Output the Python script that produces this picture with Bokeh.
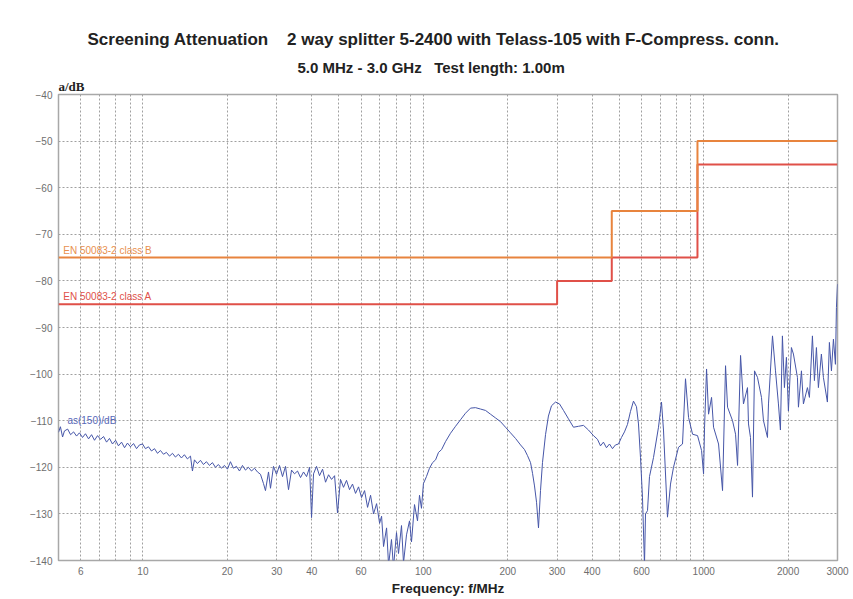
from bokeh.plotting import figure
from bokeh.models import FixedTicker, CustomJSTickFormatter, Label, Range1d, Title
from bokeh.embed import file_html
from bokeh.resources import INLINE

# ---- data ----
title_text = "Screening Attenuation\u00a0\u00a0\u00a0\u00a02 way splitter 5-2400 with Telass-105 with F-Compress. conn."
subtitle_text = "5.0 MHz - 3.0 GHz\u00a0\u00a0\u00a0Test length: 1.00m"

x_tick_labels = [6, 10, 20, 30, 40, 60, 100, 200, 300, 400, 600, 1000, 2000, 3000]
x_grid = [6, 7, 8, 9, 10, 20, 30, 40, 50, 60, 70, 80, 90, 100, 200, 300, 400, 500,
          600, 700, 800, 900, 1000, 2000, 3000]
y_ticks = [-140, -130, -120, -110, -100, -90, -80, -70, -60, -50, -40]

classB_edges = [5, 470, 950, 3000]
classB_levels = [-75, -65, -50, -50]
classA_edges = [5, 300, 470, 950, 3000]
classA_levels = [-85, -80, -75, -55, -55]

freq = [5.00, 5.08, 5.17, 5.25, 5.39, 5.52, 5.66, 5.80, 5.94, 6.09, 6.24, 6.40, 6.56, 6.72,
        6.89, 7.06, 7.24, 7.42, 7.60, 7.79, 7.99, 8.18, 8.39, 8.60, 8.81, 9.03, 9.26, 9.49,
        9.72, 9.97, 10.21, 10.47, 10.73, 11.00, 11.27, 11.55, 11.84, 12.13, 12.44, 12.75,
        13.06, 13.39, 13.72, 14.06, 14.41, 14.78, 15.02, 15.27, 15.65, 16.04, 16.44, 16.85,
        17.27, 17.70, 18.14, 18.59, 19.06, 19.54, 20.02, 20.52, 21.03, 21.56, 22.10, 22.65,
        23.21, 23.79, 24.39, 25.00, 25.62, 26.26, 26.92, 27.36, 28.05, 28.51, 29.22, 29.95,
        30.70, 31.47, 32.25, 33.06, 33.89, 34.73, 35.60, 36.49, 37.40, 38.34, 39.30, 39.94,
        40.60, 41.61, 42.65, 43.72, 44.81, 45.93, 47.08, 48.26, 49.43, 50.66, 51.93, 53.23,
        54.56, 55.92, 57.32, 58.75, 60.22, 61.73, 63.27, 64.85, 66.47, 68.13, 69.84, 70.99,
        72.15, 73.96, 75.18, 77.01, 78.28, 80.24, 81.57, 83.61, 84.99, 87.11, 89.28, 90.76,
        93.02, 95.35, 96.92, 98.51, 100.1, 102.6, 105.2, 107.9, 110.6, 113.3, 116.2, 120.0,
        125.0, 130.3, 135.7, 141.4, 147.4, 153.5, 160.0, 166.7, 173.6, 180.9, 188.5, 196.4,
        204.6, 213.2, 222.2, 229.6, 235.3, 241.2, 245.2, 249.2, 253.4, 257.5, 261.8, 266.1,
        272.8, 279.4, 286.5, 296.1, 306.0, 316.2, 329.4, 343.2, 357.6, 372.6, 388.2, 404.5,
        418.0, 428.5, 438.9, 450.0, 461.3, 472.8, 484.4, 496.7, 509.0, 521.7, 534.7, 548.1,
        561.7, 575.8, 585.3, 595.0, 604.8, 614.9, 620.0, 630.3, 640.7, 662.1, 689.8, 707.0,
        718.7, 742.7, 761.3, 780.3, 813.0, 840.2, 861.1, 882.9, 912.4, 950.6, 982.5, 998.7,
        1006.9, 1023.6, 1040.5, 1066.5, 1084.1, 1129.6, 1167.2, 1196.3, 1216.2, 1267.1,
        1298.8, 1320.3, 1353.3, 1386.2, 1432.6, 1444.5, 1468.4, 1492.6, 1517.4, 1555.3,
        1607.0, 1633.7, 1688.2, 1702.2, 1759.1, 1803.0, 1846.9, 1877.5, 1908.4, 1940.2,
        1972.4, 2004.9, 2054.9, 2089.2, 2158.9, 2176.8, 2231.2, 2268.0, 2343.6, 2382.5,
        2441.9, 2482.1, 2523.4, 2564.5, 2628.5, 2671.8, 2761.2, 2806.8, 2854.4, 2901.4,
        2949.3, 2973.9, 3000.0]

atten = [-112.5, -111.3, -113.5, -112.2, -111.8, -113.0, -112.4, -113.3, -112.6, -113.6,
         -112.8, -113.9, -113.0, -114.2, -113.2, -114.0, -113.4, -114.6, -113.8, -115.0,
         -114.2, -115.4, -114.6, -115.8, -114.8, -115.6, -114.9, -116.0, -115.2, -115.0,
         -116.0, -115.6, -116.5, -116.0, -117.0, -116.4, -117.2, -116.8, -117.6, -117.0,
         -117.8, -117.2, -118.0, -117.3, -118.2, -117.6, -120.8, -118.4, -119.2, -118.5,
         -119.4, -118.8, -119.6, -119.0, -120.0, -119.4, -120.2, -119.6, -120.4, -118.8,
         -120.2, -119.8, -120.8, -119.6, -120.6, -120.0, -120.8, -120.2, -121.0, -121.5,
         -123.5, -125.0, -121.0, -124.5, -119.8, -121.5, -119.6, -122.0, -119.8, -124.8,
         -120.6, -121.4, -120.8, -122.2, -121.0, -122.0, -120.0, -130.8, -121.4, -119.8,
         -121.8, -120.4, -123.2, -121.6, -122.6, -121.8, -129.8, -122.6, -124.3, -122.8,
         -124.8, -123.6, -125.6, -124.2, -126.5, -125.0, -128.6, -126.0, -130.0, -127.8,
         -132.0, -130.5, -137.0, -133.0, -141.0, -135.5, -141.5, -134.0, -138.5, -132.5,
         -140.5, -134.5, -131.5, -136.0, -128.0, -131.5, -126.0, -128.8, -123.5, -122.0,
         -120.2, -119.0, -118.4, -116.8, -116.2, -114.5, -112.7, -111.2, -109.8, -108.4,
         -107.3, -107.2, -107.5, -107.8, -108.6, -109.4, -110.2, -111.4, -112.6, -113.8,
         -115.2, -116.2, -117.5, -119.0, -121.3, -124.0, -127.5, -133.0, -125.0, -119.0,
         -113.0, -109.0, -106.8, -106.0, -106.4, -107.8, -109.6, -111.4, -111.2, -111.0,
         -112.0, -113.2, -114.0, -115.4, -114.6, -115.8, -115.0, -116.0, -115.2, -115.0,
         -113.6, -112.4, -110.8, -108.0, -105.8, -107.0, -110.7, -117.9, -126.4, -141.0,
         -130.0, -129.3, -122.0, -117.9, -111.4, -106.0, -112.0, -130.7, -123.6, -120.0,
         -115.7, -115.0, -101.0, -109.3, -112.9, -113.2, -116.4, -121.4, -111.4, -98.9,
         -108.6, -105.0, -111.4, -115.0, -125.0, -98.2, -107.1, -110.0, -112.9, -119.6,
         -96.0, -106.4, -102.9, -110.7, -113.6, -126.4, -99.3, -100.7, -105.0, -110.0,
         -113.6, -106.4, -91.8, -99.3, -106.4, -112.0, -91.8, -102.9, -96.4, -107.9,
         -94.3, -95.7, -100.7, -107.1, -99.3, -106.4, -102.9, -105.0, -91.8, -101.4,
         -94.3, -102.9, -95.7, -100.7, -106.0, -93.2, -99.3, -92.5, -97.9, -85.7, -80.7]

# ---- figure ----
p = figure(width=853, height=599, x_axis_type="log",
           x_range=Range1d(5, 3000), y_range=Range1d(-140, -40),
           output_backend="svg", toolbar_location=None,
           min_border_left=58, min_border_right=16, min_border_top=94, min_border_bottom=39,
           background_fill_color="white", border_fill_color="white")

p.outline_line_color = "#a8a8a8"
p.outline_line_width = 1.5

# axes
p.xaxis.ticker = FixedTicker(ticks=x_tick_labels)
p.xaxis.formatter = CustomJSTickFormatter(code="return String(Math.round(tick));")
p.yaxis.ticker = FixedTicker(ticks=y_ticks)
for ax in (p.xaxis[0], p.yaxis[0]):
    ax.axis_line_color = None
    ax.major_tick_in = 0
    ax.major_tick_out = 0
    ax.minor_tick_in = 0
    ax.minor_tick_out = 0
    ax.major_label_text_color = "#6e6e6e"
    ax.major_label_text_font = "Liberation Sans"
    ax.major_label_text_font_size = "10px"
    ax.major_label_standoff = 6
p.xaxis.axis_label = "Frequency: f/MHz"
p.xaxis.axis_label_text_font = "Liberation Sans"
p.xaxis.axis_label_text_font_style = "bold"
p.xaxis.axis_label_text_font_size = "13.5px"
p.xaxis.axis_label_text_color = "#222222"
p.xaxis.axis_label_standoff = 3

# grids
p.xgrid.ticker = FixedTicker(ticks=x_grid)
p.ygrid.ticker = FixedTicker(ticks=y_ticks)
for g in (p.xgrid[0], p.ygrid[0]):
    g.grid_line_color = "#a0a0a0"
    g.grid_line_dash = "2 2"
    g.grid_line_width = 1

# limit lines
p.step(x=classA_edges, y=classA_levels, mode="after", line_color="#e05048", line_width=2)
p.step(x=classB_edges, y=classB_levels, mode="after", line_color="#e8843e", line_width=2)

# measured trace
p.line(freq, atten, line_color="#4656a8", line_width=1)

# in-plot labels
p.add_layout(Label(x=5.2, y=-75, y_offset=2, text="EN 50083-2 class B", text_color="#e8904e",
                   text_font="Liberation Sans", text_font_size="10px", text_baseline="bottom"))
p.add_layout(Label(x=5.2, y=-85, y_offset=2, text="EN 50083-2 class A", text_color="#e05048",
                   text_font="Liberation Sans", text_font_size="10px", text_baseline="bottom"))
p.add_layout(Label(x=5.38, y=-110, text="as(150)/dB", text_color="#5868b8",
                   text_font="Liberation Sans", text_font_size="10px", text_baseline="middle"))

# titles above the frame (first added is nearest the frame)
p.add_layout(Title(text="a/dB", align="left", offset=0, standoff=2,
                   text_color="#222222", text_font="Liberation Serif",
                   text_font_style="bold", text_font_size="13px"), "above")
p.add_layout(Title(text=subtitle_text, align="left", offset=239, standoff=0,
                   text_color="#222222", text_font="Liberation Sans",
                   text_font_style="bold", text_font_size="15px"), "above")
p.add_layout(Title(text=title_text, align="left", offset=29, standoff=16,
                   text_color="#222222", text_font="Liberation Sans",
                   text_font_style="bold", text_font_size="17px"), "above")

open("out.html", "w").write(file_html(p, INLINE))
